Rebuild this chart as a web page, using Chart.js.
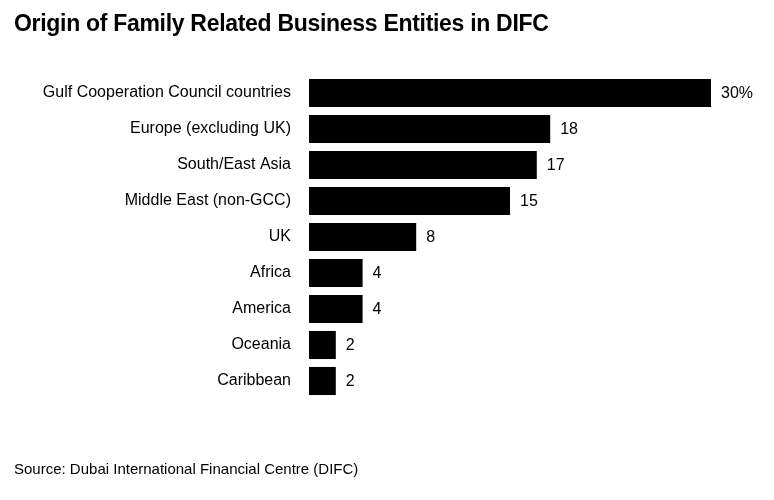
<!DOCTYPE html>
<html><head><meta charset="utf-8">
<script src="https://cdn.jsdelivr.net/npm/chart.js@4"></script>
<style>
body{margin:0;background:#fff;font-family:"Liberation Sans",Arial,sans-serif;}
#wrap{position:relative;width:774px;height:500px;}
#t{position:absolute;left:14px;top:10px;font-weight:bold;font-size:23px;color:#000;letter-spacing:-0.3px}
#s{position:absolute;left:14px;top:460px;font-size:15px;color:#000}
canvas{position:absolute;left:0;top:0}
</style></head><body>
<div id="wrap"><canvas id="c" width="774" height="500"></canvas>
<div id="t">Origin of Family Related Business Entities in DIFC</div>
<div id="s">Source: Dubai International Financial Centre (DIFC)</div></div>
<script>
const categories=["Gulf Cooperation Council countries","Europe (excluding UK)","South/East Asia","Middle East (non-GCC)","UK","Africa","America","Oceania","Caribbean"];
const values=[30,18,17,15,8,4,4,2,2];
const valueLabels=["30%","18","17","15","8","4","4","2","2"];
const lbl={id:'lbl',afterDatasetsDraw(ch){const c=ch.ctx;const m=ch.getDatasetMeta(0);c.save();c.font='16px "Liberation Sans", Arial';c.fillStyle='#000';c.textBaseline='middle';m.data.forEach((b,i)=>c.fillText(valueLabels[i],b.x+10,b.y+1));c.restore();}};
new Chart(document.getElementById('c'),{type:'bar',data:{labels:categories,datasets:[{data:values,backgroundColor:'#000',barPercentage:0.78,categoryPercentage:1}]},
options:{indexAxis:'y',responsive:false,animation:false,layout:{padding:{top:75,bottom:101,right:63,left:0}},
plugins:{legend:{display:false},tooltip:{enabled:false}},
scales:{x:{display:false,min:0,max:30},y:{grid:{display:false},border:{display:false},afterFit(s){s.width=309;},ticks:{color:'#000',padding:10,font:{size:16,family:'"Liberation Sans", Arial'}}}}},plugins:[lbl]});
</script></body></html>
